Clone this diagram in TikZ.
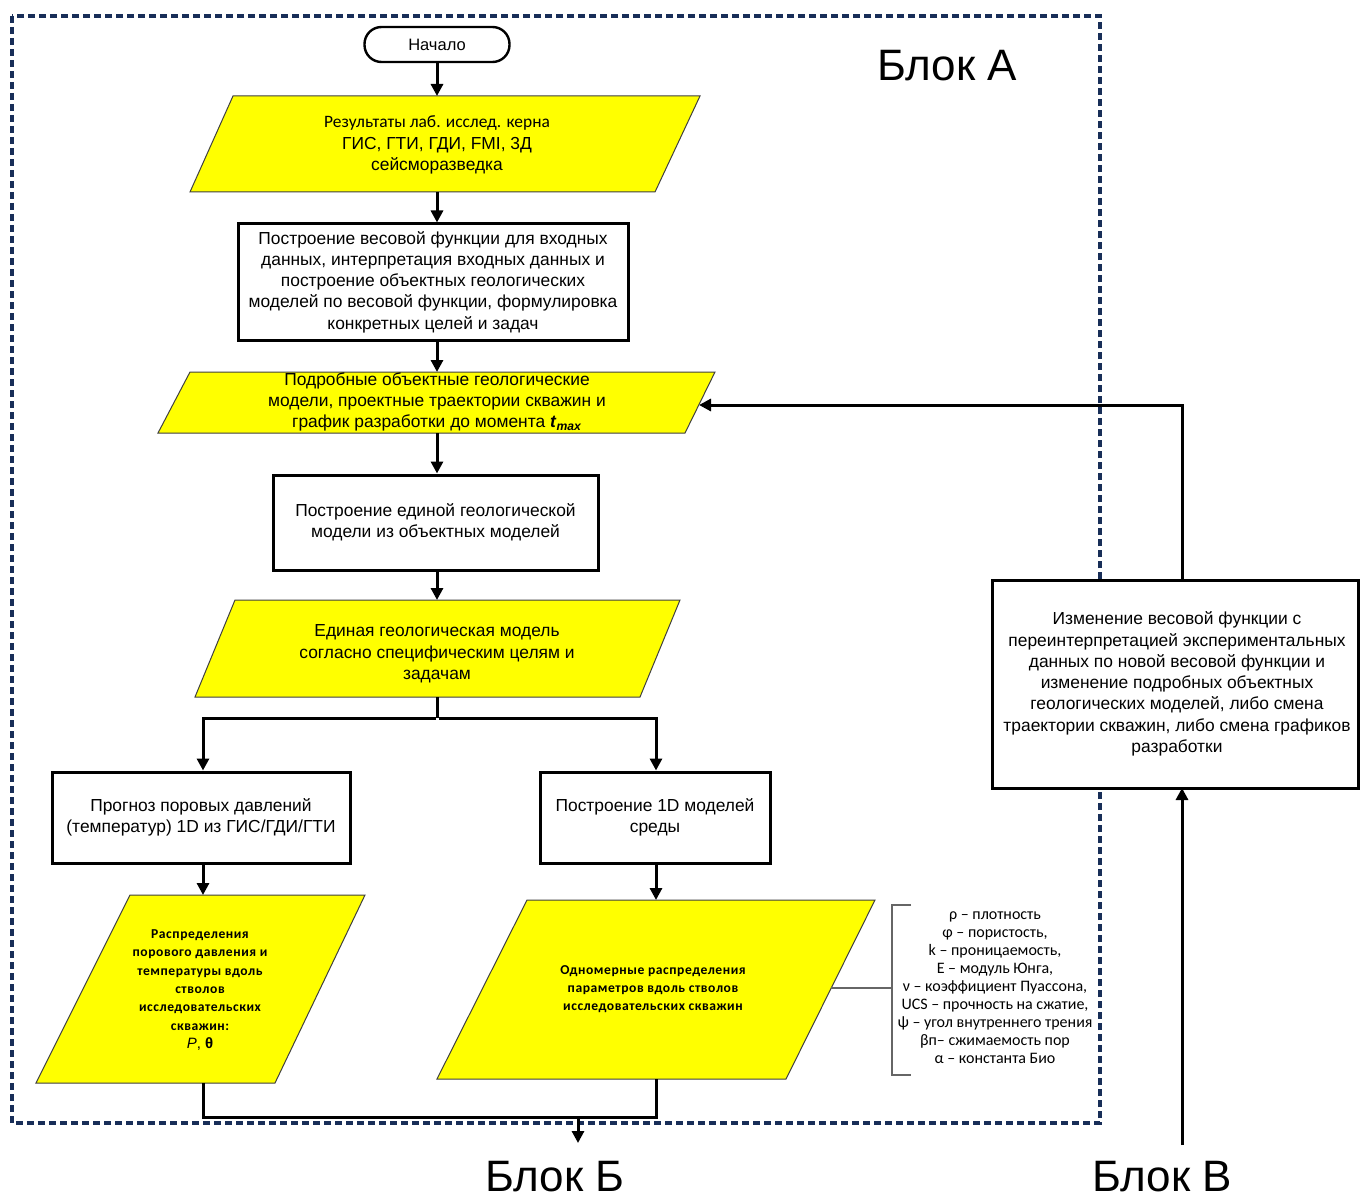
\documentclass[tikz,border=0pt]{standalone}
\usepackage{fontspec}
\setmainfont{Liberation Sans}
\newfontfamily\carl{Carlito}
\newfontfamily\carlsp[LetterSpace=4]{Carlito}
\usetikzlibrary{arrows.meta}
\definecolor{frameblue}{RGB}{24,46,88}
\definecolor{datayellow}{RGB}{255,255,0}
\begin{document}
\begin{tikzpicture}[x=1pt,y=-1pt,
  flow/.style={line width=3pt,-{Triangle[length=12pt,width=12pt]}},
  wire/.style={line width=3pt},
  databox/.style={fill=datayellow,draw=black!75,line width=1pt},
  procbox/.style={draw=black,line width=3pt,fill=white,inner sep=0pt},
  txt/.style={align=center,font=\fontsize{17.4}{21.3}\selectfont,inner sep=0pt},
  boldtxt/.style={align=center,font=\carlsp\bfseries\fontsize{13.6}{18.3}\selectfont,inner sep=0pt},
  legendtxt/.style={align=center,font=\carl\fontsize{16}{18}\selectfont,inner sep=0pt},
  blocklabel/.style={font=\fontsize{44}{48}\selectfont,inner sep=0pt}
]
\useasboundingbox (0,0) rectangle (1360,1201);
\fill[white] (0,0) rectangle (1360,1201);

% outer frame of block A
\draw[frameblue,line width=3.4pt,dash pattern=on 7pt off 4pt]
  (12,16) rectangle (1100,1123);

% start terminal
\node[draw=black,line width=2.4pt,rounded corners=17pt,minimum width=145pt,
  minimum height=35pt,txt,font=\fontsize{16.5}{20}\selectfont] (start) at (437,44.5) {Начало};

% data 1
\draw[databox] (233,96) -- (700,96) -- (655,192) -- (190,192) -- cycle;
\coordinate (d1t) at (437,96);
\coordinate (d1b) at (437,192);
\node[txt] (d1) at (437,145) {{\carl\fontsize{17.4}{21.3}\selectfont Результаты лаб. исслед. керна}\\ГИС, ГТИ, ГДИ, FMI, 3Д\\сейсморазведка};

% process 1
\node[procbox,minimum width=390pt,minimum height=116pt] (b1) at (433,282) {};
\node[txt] (b1t) at (433,282) {Построение весовой функции для входных\\данных, интерпретация входных данных и\\построение объектных геологических\\моделей по весовой функции, формулировка\\конкретных целей и задач};

% data 2
\draw[databox] (190,372) -- (715,372) -- (685,433) -- (158,433) -- cycle;
\coordinate (d2t) at (437,372);
\coordinate (d2b) at (437,433);
\coordinate (d2r) at (699,405);
\node[txt] (d2) at (437,402) {Подробные объектные геологические\\модели, проектные траектории скважин и\\график разработки до момента \textbf{\textit{t}\textsubscript{\textit{max}}}};

% process 2
\node[procbox,minimum width=325pt,minimum height=95pt] (b2) at (435.5,522.5) {};
\node[txt] (b2t) at (435.5,522.5) {Построение единой геологической\\модели из объектных моделей};

% data 3
\draw[databox] (235,600) -- (680,600) -- (640,697) -- (195,697) -- cycle;
\coordinate (d3t) at (437,600);
\coordinate (d3b) at (437,697);
\node[txt] (d3) at (437,654) {Единая геологическая модель\\согласно специфическим целям и\\задачам};

% branch
\coordinate (split) at (437,718);
\coordinate (splitL) at (203,718);
\coordinate (splitR) at (656,718);

% process 3 and 4
\node[procbox,minimum width=298pt,minimum height=91pt] (b3) at (201,817.5) {};
\node[txt] (b3t) at (201,817.5) {Прогноз поровых давлений\\(температур) 1D из ГИС/ГДИ/ГТИ};
\node[procbox,minimum width=230pt,minimum height=91pt] (b4) at (655,817.5) {};
\node[txt] (b4t) at (655,817.5) {Построение 1D моделей\\среды};

% data 4
\draw[databox] (130,895) -- (365,895) -- (275,1083) -- (36,1083) -- cycle;
\coordinate (d4t) at (203,895);
\coordinate (d4b) at (203,1083);
\node[boldtxt] (d4) at (200,990) {Распределения\\порового давления и\\температуры вдоль\\стволов\\исследовательских\\скважин:\\{\fontspec{Liberation Sans}\fontsize{15}{18}\selectfont\mdseries\textit{P}, \textbf{θ}}};

% data 5
\draw[databox] (527,900) -- (875,900) -- (786,1079) -- (437,1079) -- cycle;
\coordinate (d5t) at (656,900);
\coordinate (d5b) at (656,1079);
\coordinate (d5r) at (831,988);
\node[boldtxt] (d5) at (653,989) {Одномерные распределения\\параметров вдоль стволов\\исследовательских скважин};

% parameter legend with bracket
\coordinate (brk) at (892,988);
\draw[black!60,line width=1.2pt] (911,905) -- (892,905) -- (892,1075) -- (911,1075);
\node[legendtxt] (leg) at (995,988) {ρ – плотность\\φ – пористость,\\k – проницаемость,\\E – модуль Юнга,\\ν – коэффициент Пуассона,\\UCS – прочность на сжатие,\\ψ – угол внутреннего трения\\βп– сжимаемость пор\\α – константа Био};

% feedback process (block B)
\node[procbox,minimum width=366pt,minimum height=208pt] (b5) at (1175,684) {};
\node[txt] (b5t) at (1177,684) {Изменение весовой функции с\\переинтерпретацией экспериментальных\\данных по новой весовой функции и\\изменение подробных объектных\\геологических моделей, либо смена\\траектории скважин, либо смена графиков\\разработки};
\coordinate (b5top) at (1182,580);
\coordinate (b5bot) at (1182,788);
\coordinate (loopcorner) at (1182,405);
\coordinate (fromB) at (1182,1145);

% merge towards block B
\coordinate (mergeL) at (203,1117);
\coordinate (mergeR) at (656,1117);
\coordinate (mergeMid) at (578,1117);
\coordinate (toB) at (578,1143);

% block labels
\node[blocklabel] (blockA) at (947,66) {Блок А};
\node[blocklabel] (blockB) at (555,1177) {Блок Б};
\node[blocklabel] (blockC) at (1162,1177) {Блок В};

% connectors
\draw[flow] (start.south) -- (d1t);
\draw[flow] (d1b) -- (d1b |- b1.north);
\draw[flow] (d1b |- b1.south) -- (d2t);
\draw[flow] (d2b) -- (d2b |- b2.north);
\draw[flow] (d2b |- b2.south) -- (d3t);
\draw[wire] (d3b) -- (split);
\draw[flow] ([xshift=-1.5pt]split) -- (splitL) -- (b3.north -| splitL);
\draw[flow] ([xshift=1.5pt]split) -- (splitR) -- (b4.north -| splitR);
\draw[flow] (b3.south -| d4t) -- (d4t);
\draw[flow] (b4.south -| d5t) -- (d5t);
\draw[wire] (d4b) -- (mergeL) -- (mergeR) -- (d5b);
\draw[flow] (mergeMid) -- (toB);
\draw[black!60,line width=1.2pt] (d5r) -- (brk);
\draw[flow] (b5top) -- (loopcorner) -- (d2r);
\draw[flow] (fromB) -- (b5bot);
\end{tikzpicture}
\end{document}
